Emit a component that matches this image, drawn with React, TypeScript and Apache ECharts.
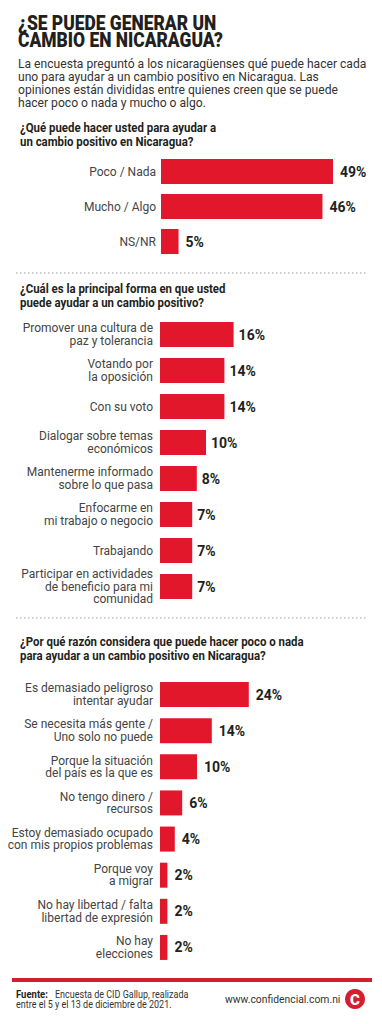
import React, { useEffect, useRef } from "react";
import * as echarts from "echarts";

const q1Categories = ["Poco / Nada", "Mucho / Algo", "NS/NR"];
const q1Values = [49, 46, 5];

const q2Categories = [
  "Promover una cultura de\npaz y tolerancia",
  "Votando por\nla oposición",
  "Con su voto",
  "Dialogar sobre temas\neconómicos",
  "Mantenerme informado\nsobre lo que pasa",
  "Enfocarme en\nmi trabajo o negocio",
  "Trabajando",
  "Participar en actividades\nde beneficio para mi\ncomunidad",
];
const q2Values = [16, 14, 14, 10, 8, 7, 7, 7];

const q3Categories = [
  "Es demasiado peligroso\nintentar ayudar",
  "Se necesita más gente /\nUno solo no puede",
  "Porque la situación\ndel país es la que es",
  "No tengo dinero /\nrecursos",
  "Estoy demasiado ocupado\ncon mis propios problemas",
  "Porque voy\na migrar",
  "No hay libertad / falta\nlibertad de expresión",
  "No hay\nelecciones",
];
const q3Values = [24, 14, 10, 6, 4, 2, 2, 2];

const titleLines = ["¿SE PUEDE GENERAR UN", "CAMBIO EN NICARAGUA?"];
const introLines = [
  "La encuesta preguntó a los nicaragüenses qué puede hacer cada",
  "uno para ayudar a un cambio positivo en Nicaragua. Las",
  "opiniones están divididas entre quienes creen que se puede",
  "hacer poco o nada y mucho o algo.",
];
const q1Title = ["¿Qué puede hacer usted para ayudar a", "un cambio positivo en Nicaragua?"];
const q2Title = ["¿Cuál es la principal forma en que usted", "puede ayudar a un cambio positivo?"];
const q3Title = [
  "¿Por qué razón considera que puede hacer poco o nada",
  "para ayudar a un cambio positivo en Nicaragua?",
];
const sourceLabel = "Fuente:";
const sourceLines = [
  "Encuesta de CID Gallup, realizada",
  "entre el 5 y el 13 de diciembre de 2021.",
];
const siteText = "www.confidencial.com.ni";

const RED = "#E3172B";
const FONT = "Liberation Sans Narrow, Roboto, sans-serif";

export default function App() {
  const ref = useRef<HTMLDivElement>(null);

  useEffect(() => {
    if (!ref.current) return;
    const chart = echarts.init(ref.current, undefined, { renderer: "svg" });

    const textEl = (
      text: string,
      x: number,
      y: number,
      font: string,
      fill: string,
      scaleX = 1
    ) => ({
      type: "text",
      x,
      y,
      scaleX,
      style: { text, font, fill, textVerticalAlign: "middle", textAlign: "left" },
    });

    const graphics: any[] = [];
    titleLines.forEach((t, i) =>
      graphics.push(textEl(t, 18, 22.5 + i * 17.5, "900 21px Roboto", "#231f20", 0.83))
    );
    introLines.forEach((t, i) =>
      graphics.push(textEl(t, 18, 64 + i * 13.1, "400 12.5px Roboto", "#333", 0.97))
    );
    q1Title.forEach((t, i) =>
      graphics.push(textEl(t, 20, 128 + i * 13.5, "700 13px Roboto", "#231f20", 0.88))
    );
    q2Title.forEach((t, i) =>
      graphics.push(textEl(t, 20, 289 + i * 13.5, "700 13px Roboto", "#231f20", 0.88))
    );
    q3Title.forEach((t, i) =>
      graphics.push(textEl(t, 20, 642 + i * 13.5, "700 13px Roboto", "#231f20", 0.88))
    );
    [273, 618].forEach((y) =>
      graphics.push({
        type: "line",
        shape: { x1: 16, y1: y, x2: 366, y2: y },
        style: { stroke: "#9a9a9a", lineWidth: 1, lineDash: [1.5, 2.5] },
      })
    );
    graphics.push({
      type: "rect",
      shape: { x: 12, y: 978, width: 360, height: 4 },
      style: { fill: "#D51F2E" },
    });
    graphics.push(textEl(sourceLabel, 16, 994.5, "700 10px Roboto", "#231f20", 0.95));
    graphics.push(textEl(sourceLines[0], 55, 994.5, "400 10px Roboto", "#333", 0.9));
    graphics.push(textEl(sourceLines[1], 16, 1004, "400 10px Roboto", "#333", 0.9));
    graphics.push(textEl(siteText, 225, 999, "400 11.5px Roboto", "#333", 0.9));
    graphics.push({
      type: "circle",
      shape: { cx: 355, cy: 999, r: 10 },
      style: { fill: "#D51F2E" },
    });
    graphics.push({
      type: "text",
      x: 355,
      y: 999.5,
      style: {
        text: "C",
        font: "900 15px Roboto",
        fill: "#fff",
        textAlign: "center",
        textVerticalAlign: "middle",
      },
    });

    const mkY = (idx: number, data: string[], margin: number) => ({
      type: "category",
      gridIndex: idx,
      data,
      inverse: true,
      axisLine: { show: false },
      axisTick: { show: false },
      splitLine: { show: false },
      axisLabel: {
        margin,
        fontFamily: FONT,
        fontSize: 12,
        lineHeight: 12.5,
        color: "#444",
        align: "right",
      },
    });
    const mkX = (idx: number, max: number) => ({
      type: "value",
      gridIndex: idx,
      min: 0,
      max,
      show: false,
      splitLine: { show: false },
    });
    const mkS = (idx: number, data: number[], dist: number) => ({
      type: "bar",
      xAxisIndex: idx,
      yAxisIndex: idx,
      data,
      barWidth: 25,
      itemStyle: { color: RED },
      label: {
        show: true,
        position: "right",
        distance: dist,
        formatter: "{c}%",
        fontFamily: "Roboto",
        fontWeight: 700,
        fontSize: 14,
        color: "#231f20",
      },
    });

    chart.setOption({
      animation: false,
      backgroundColor: "#fff",
      grid: [
        { left: 161, top: 154, width: 175.5, height: 105 },
        { left: 160, top: 316.5, width: 184, height: 288 },
        { left: 160, top: 676.5, width: 185, height: 289 },
      ],
      xAxis: [mkX(0, 50), mkX(1, 40), mkX(2, 50)],
      yAxis: [mkY(0, q1Categories, 5), mkY(1, q2Categories, 7), mkY(2, q3Categories, 7)],
      series: [mkS(0, q1Values, 7), mkS(1, q2Values, 5), mkS(2, q3Values, 7)],
      graphic: graphics,
    });

    return () => chart.dispose();
  }, []);

  return (
    <div
      ref={ref}
      style={{ position: "absolute", left: 0, top: 0, width: 382, height: 1024 }}
    />
  );
}
